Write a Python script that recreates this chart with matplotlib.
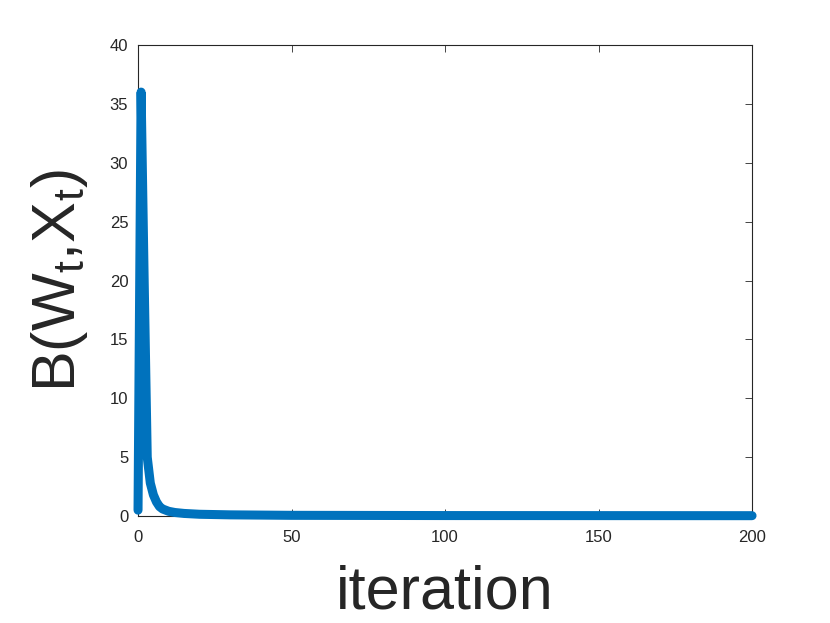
import matplotlib
matplotlib.use('Agg')
import matplotlib.pyplot as plt

plt.rcParams['font.family'] = ['Liberation Sans', 'DejaVu Sans']
plt.rcParams['mathtext.fontset'] = 'custom'
plt.rcParams['mathtext.rm'] = 'Liberation Sans'
plt.rcParams['mathtext.it'] = 'Liberation Sans'
plt.rcParams['mathtext.default'] = 'regular'

# values (iteration -> B(W_t, X_t))
iteration = [0, 1, 2, 3, 4, 5, 6, 7, 8, 10, 12, 15, 20, 30, 50, 100, 200]
b_value = [0.5, 36, 20, 5, 2.8, 1.8, 1.2, 0.8, 0.6, 0.4, 0.3, 0.22, 0.15, 0.1, 0.06, 0.04, 0.03]

x_ticks = [0, 50, 100, 150, 200]
y_ticks = [0, 5, 10, 15, 20, 25, 30, 35, 40]

axc = '#262626'

fig = plt.figure(figsize=(8.3, 6.23), dpi=100)
ax = fig.add_axes([0.1663, 0.1717, 0.7398, 0.7561])
ax.plot(iteration, b_value, color='#0072BD', linewidth=6.5,
        solid_joinstyle='round', solid_capstyle='round', clip_on=False, zorder=3)

ax.set_xlim(0, 200)
ax.set_ylim(0, 40)
ax.set_xticks(x_ticks)
ax.set_yticks(y_ticks)
ax.tick_params(direction='in', length=5, width=0.6, colors=axc, labelsize=12,
               top=True, right=True)
ax.tick_params(axis='x', pad=10)
ax.tick_params(axis='y', pad=7)
for s in ax.spines.values():
    s.set_color(axc)
    s.set_linewidth(0.8)

ax.set_xlabel('iteration', fontsize=44, color=axc, labelpad=14)
ax.set_ylabel(r'B(W$_t$,X$_t$)', fontsize=44, color=axc, labelpad=14)

fig.savefig('out.png', dpi=100)
